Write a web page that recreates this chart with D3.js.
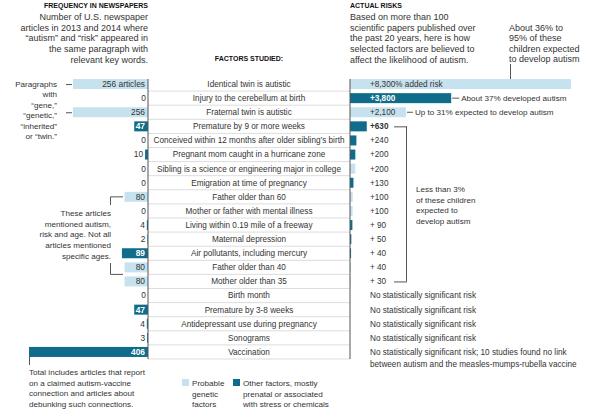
<!DOCTYPE html>
<html>
<head>
<meta charset="utf-8">
<script src="https://cdn.jsdelivr.net/npm/d3@7"></script>
<style>
  body { margin: 0; background: #fff; }
  svg text { font-family: "Liberation Sans Narrow", "Liberation Sans", Arial, sans-serif; fill: #333; }
  .hdr { font-weight: bold; font-size: 7px; fill: #111; }
  .lead { font-size: 9px; }
  .note { font-size: 8.1px; }
  .ctr { font-size: 8.2px; }
  .val { font-size: 8.2px; }
  .lval { font-size: 8.4px; }
</style>
</head>
<body>
<script>
const factors = [
  "Identical twin is autistic",
  "Injury to the cerebellum at birth",
  "Fraternal twin is autistic",
  "Premature by 9 or more weeks",
  "Conceived within 12 months after older sibling\u2019s birth",
  "Pregnant mom caught in a hurricane zone",
  "Sibling is a science or engineering major in college",
  "Emigration at time of pregnancy",
  "Father older than 60",
  "Mother or father with mental illness",
  "Living within 0.19 mile of a freeway",
  "Maternal depression",
  "Air pollutants, including mercury",
  "Father older than 40",
  "Mother older than 35",
  "Birth month",
  "Premature by 3-8 weeks",
  "Antidepressant use during pregnancy",
  "Sonograms",
  "Vaccination"
];
const articles = [256, 0, 256, 47, 0, 10, 0, 0, 80, 0, 4, 2, 89, 80, 80, 0, 47, 4, 3, 406];
const articleLabels = ["256 articles", "0", "256", "47", "0", "10", "0", "0", "80", "0", "4", "2", "89", "80", "80", "0", "47", "4", "3", "406"];
const risks = [8300, 3800, 2100, 630, 240, 200, 200, 130, 100, 100, 90, 50, 40, 40, 30, null, null, null, null, null];
const noRisk = "No statistically significant risk";
const riskLabels = ["+8,300% added risk", "+3,800", "+2,100", "+630", "+240", "+200", "+200", "+130", "+100", "+100",
  "+ 90", "+ 50", "+ 40", "+ 40", "+ 30", noRisk, noRisk, noRisk, noRisk,
  noRisk + "; 10 studies found no link"];
const genetic = [1, 0, 1, 0, 0, 0, 1, 0, 1, 1, 0, 0, 0, 1, 1, 0, 0, 0, 0, 0];

const light = "#c7e2ef", dark = "#0f6c8b", lineCol = "#555";
const leftAxis = 148, rightAxis = 350;

const svg = d3.select("body").append("svg")
    .attr("width", 600).attr("height", 418);

const y = d3.scaleBand().domain(d3.range(factors.length)).range([77, 359]);
const xLeft = d3.scaleLinear().domain([0, 406]).range([leftAxis, 29]);
const xRight = d3.scaleLinear().domain([0, 8300]).range([rightAxis, 571]);
const bh = 10;
const cy = i => y(i) + y.bandwidth() / 2;

function textBlock(lines, x, y0, lh, anchor, cls) {
  let t = svg.append("text").attr("class", cls).attr("text-anchor", anchor);
  lines.forEach((l, i) => {
    t.append("tspan").attr("x", x).attr("y", y0 + i * lh).attr("dy", "0.35em").text(l);
  });
  return t;
}

// row dividers
svg.append("g").selectAll("line")
  .data(d3.range(1, factors.length + 1))
  .join("line")
    .attr("x1", leftAxis).attr("x2", rightAxis)
    .attr("y1", i => y(i) ?? y.range()[1]).attr("y2", i => y(i) ?? y.range()[1])
    .attr("stroke", "#ddd").attr("stroke-width", 1);

// left bars
svg.append("g").selectAll("rect")
  .data(articles)
  .join("rect")
    .attr("x", d => xLeft(d))
    .attr("width", d => leftAxis - xLeft(d))
    .attr("y", (d, i) => cy(i) - bh / 2)
    .attr("height", bh)
    .attr("fill", (d, i) => genetic[i] ? light : dark);

svg.append("g").selectAll("text")
  .data(articles)
  .join("text")
    .attr("class", "lval")
    .attr("text-anchor", "end")
    .attr("x", d => d >= 40 ? leftAxis - 3 : xLeft(d) - 2)
    .attr("y", (d, i) => cy(i)).attr("dy", "0.35em")
    .style("fill", (d, i) => d >= 40 && !genetic[i] ? "#fff" : "#333")
    .style("font-weight", (d, i) => d >= 40 && !genetic[i] ? "bold" : null)
    .text((d, i) => articleLabels[i]);

// right bars
svg.append("g").selectAll("rect")
  .data(risks)
  .join("rect")
    .attr("x", rightAxis)
    .attr("width", d => d == null ? 0 : xRight(d) - rightAxis)
    .attr("y", (d, i) => cy(i) - bh / 2)
    .attr("height", bh)
    .attr("fill", (d, i) => genetic[i] ? light : dark);

svg.append("g").selectAll("text")
  .data(riskLabels)
  .join("text")
    .attr("class", "val")
    .attr("x", 370)
    .attr("y", (d, i) => cy(i)).attr("dy", "0.35em")
    .style("fill", (d, i) => i === 1 ? "#fff" : "#333")
    .style("font-weight", (d, i) => i === 1 || i === 3 ? "bold" : null)
    .text(d => d);
svg.append("text").attr("class", "val")
  .attr("x", 370).attr("y", cy(19) + 12).attr("dy", "0.35em")
  .text("between autism and the measles-mumps-rubella vaccine");

// factor names
svg.append("g").selectAll("text")
  .data(factors)
  .join("text")
    .attr("class", "ctr")
    .attr("text-anchor", "middle")
    .attr("x", (leftAxis + rightAxis) / 2)
    .attr("y", (d, i) => cy(i)).attr("dy", "0.35em")
    .text(d => d);

// axes
[leftAxis, rightAxis].forEach(x => {
  svg.append("line").attr("x1", x).attr("x2", x)
    .attr("y1", 79).attr("y2", 359)
    .attr("stroke", lineCol).attr("stroke-width", 1);
});

// headers
textBlock(["FREQUENCY IN NEWSPAPERS"], leftAxis, 6, 0, "end", "hdr");
textBlock(["Number of U.S. newspaper", "articles in 2013 and 2014 where",
  "\u201cautism\u201d and \u201crisk\u201d appeared in", "the same paragraph with",
  "relevant key words."], leftAxis, 17, 10.6, "end", "lead");
textBlock(["FACTORS STUDIED:"], (leftAxis + rightAxis) / 2, 59, 0, "middle", "hdr");
textBlock(["ACTUAL RISKS"], rightAxis, 6, 0, "start", "hdr");
textBlock(["Based on more than 100", "scientific papers published over",
  "the past 20 years, here is how", "selected factors are believed to",
  "affect the likelihood of autism."], rightAxis, 17, 10.6, "start", "lead");
textBlock(["About 36% to", "95% of these", "children expected", "to develop autism"],
  509, 27.5, 10.6, "start", "lead");

function seg(x1, y1, x2, y2) {
  svg.append("line").attr("x1", x1).attr("y1", y1).attr("x2", x2).attr("y2", y2)
    .attr("stroke", lineCol).attr("stroke-width", 1);
}
seg(510.5, 64, 510.5, cy(0) - bh / 2);

// right annotations
seg(xRight(3800) + 1, cy(1), xRight(3800) + 8, cy(1));
textBlock(["About 37% developed autism"], xRight(3800) + 10, cy(1), 0, "start", "note");
seg(xRight(2100) + 1, cy(2), xRight(2100) + 7, cy(2));
textBlock(["Up to 31% expected to develop autism"], xRight(2100) + 9, cy(2), 0, "start", "note");
seg(394, cy(3) + 0.5, 407, cy(3) + 0.5);
seg(406.5, cy(3), 406.5, cy(14));
seg(394, cy(14) + 0.5, 407, cy(14) + 0.5);
textBlock(["Less than 3%", "of these children", "expected to", "develop autism"],
  416, 189, 10.8, "start", "note");

// left annotations
textBlock(["Paragraphs", "with", "\u201cgene,\u201d", "\u201cgenetic,\u201d",
  "\u201cinherited\u201d", "or \u201ctwin.\u201d"], 57, cy(0), 10.5, "end", "note");
seg(66, cy(0) + 0.5, 72, cy(0) + 0.5);
seg(66, cy(2) + 0.5, 72, cy(2) + 0.5);

const bTop = cy(8), bBot = (cy(13) + cy(14)) / 2;
seg(110.5, bTop, 123, bTop);
seg(110.5, bTop, 110.5, 205);
seg(110.5, 263, 110.5, bBot);
seg(110.5, bBot, 123, bBot);
textBlock(["These articles", "mentioned autism,", "risk and age. Not all",
  "articles mentioned", "specific ages."], 111, 213, 10.7, "end", "note");

seg(29.5, cy(19) + bh / 2, 29.5, 365);
textBlock(["Total includes articles that report", "on a claimed autism-vaccine",
  "connection and articles about", "debunking such connections."], 29, 372, 10.7, "start", "note");

// legend
svg.append("rect").attr("x", 182).attr("y", 379).attr("width", 7).attr("height", 7).attr("fill", light);
textBlock(["Probable", "genetic", "factors"], 192, 383, 10.7, "start", "note");
svg.append("rect").attr("x", 233).attr("y", 379).attr("width", 7).attr("height", 7).attr("fill", dark);
textBlock(["Other factors, mostly", "prenatal or associated", "with stress or chemicals"], 243, 383, 10.7, "start", "note");
</script>
</body>
</html>
